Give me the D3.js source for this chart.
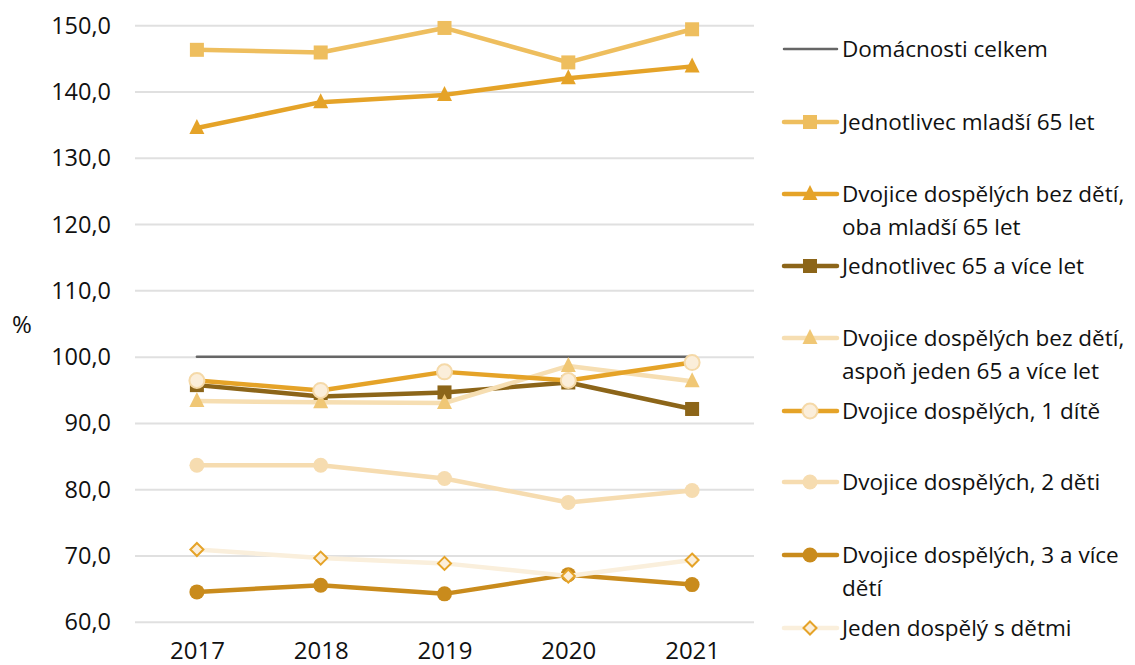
<!DOCTYPE html>
<html><head><meta charset="utf-8">
<script src="https://cdn.jsdelivr.net/npm/d3@7"></script>
<style>body{margin:0;background:#fff}svg{display:block}text{font-family:"Open Sans","Noto Sans",sans-serif;fill:#111}</style>
</head><body><svg id="c" width="1135" height="665"></svg>
<script>
const years = ["2017","2018","2019","2020","2021"];
const yTicks = [60,70,80,90,100,110,120,130,140,150];
const seriesNames = ["Domácnosti celkem","Jednotlivec mladší 65 let","Dvojice dospělých bez dětí, oba mladší 65 let","Jednotlivec 65 a více let","Dvojice dospělých bez dětí, aspoň jeden 65 a více let","Dvojice dospělých, 1 dítě","Dvojice dospělých, 2 děti","Dvojice dospělých, 3 a více dětí","Jeden dospělý s dětmi"];
const domacnostiCelkem = [100,100,100,100,100];
const jednotlivecMladsi65 = [146.3,145.9,149.6,144.4,149.4];
const dvojiceBezDetiMladsi = [134.5,138.4,139.5,142.0,143.8];
const jednotlivec65 = [95.7,94.0,94.6,96.1,92.1];
const dvojiceBezDeti65 = [93.3,93.1,93.0,98.6,96.3];
const dvojice1Dite = [96.4,94.9,97.7,96.4,99.1];
const dvojice2Deti = [83.6,83.6,81.6,78.0,79.8];
const dvojice3Deti = [64.5,65.5,64.2,67.1,65.6];
const jedenDospely = [70.9,69.6,68.8,66.9,69.3];

const values = [domacnostiCelkem,jednotlivecMladsi65,dvojiceBezDetiMladsi,jednotlivec65,dvojiceBezDeti65,dvojice1Dite,dvojice2Deti,dvojice3Deti,jedenDospely];
const styles = [
 {line:"#666666", w:2.5, marker:null},
 {line:"#EEBE5E", w:4.5, marker:"square", fill:"#EEBE5E", stroke:"none"},
 {line:"#E5A328", w:4.5, marker:"triangle", fill:"#E5A328", stroke:"none"},
 {line:"#8C6519", w:4.5, marker:"square", fill:"#8C6519", stroke:"none"},
 {line:"#F6DEB2", w:4.5, marker:"triangle", fill:"#F0C775", stroke:"none"},
 {line:"#E5A328", w:4.5, marker:"circle", fill:"#FBEEDA", stroke:"#F5D9A8"},
 {line:"#F6DCB0", w:4.5, marker:"circle", fill:"#F6DCB0", stroke:"none"},
 {line:"#C98B1C", w:4.5, marker:"circle", fill:"#C98B1C", stroke:"none"},
 {line:"#FAEFDC", w:4.5, marker:"diamond", fill:"#FBEEDA", stroke:"#E5A328"}
];

const svg = d3.select("#c");
const x = d3.scalePoint().domain(years).range([135,754]).padding(0.5);
const y = d3.scaleLinear().domain([60,150]).range([621.7,25.3]);

const yAxis = d3.axisLeft(y).tickValues(yTicks).tickSize(-(754-135)).tickFormat(d=>d3.format(".1f")(d).replace(".",","));
const gy = svg.append("g").attr("transform","translate(135,0)").call(yAxis);
gy.select(".domain").remove();
gy.selectAll(".tick line").attr("stroke","#e0e0e0").attr("stroke-width",2);
gy.selectAll(".tick text").attr("x",-24).attr("dy","0.34em").attr("font-size",23.5).style("fill","#111");

const xAxis = d3.axisBottom(x).tickSize(0);
const gx = svg.append("g").attr("transform","translate(0,622)").call(xAxis);
gx.select(".domain").remove();
gx.selectAll(".tick text").attr("dy",37).attr("y",0).attr("font-size",24).style("fill","#111");

svg.append("text").attr("x",22).attr("y",333).attr("text-anchor","middle").attr("font-size",24).text("%");

function drawMarker(g, type, cx, cy, st){
  let el;
  if(type==="square") el=g.append("rect").attr("x",cx-7).attr("y",cy-7).attr("width",14).attr("height",14);
  else if(type==="circle") el=g.append("circle").attr("cx",cx).attr("cy",cy).attr("r",7.5);
  else if(type==="triangle") el=g.append("path").attr("d",`M${cx},${cy-9}L${cx+7.5},${cy+6}L${cx-7.5},${cy+6}Z`);
  else if(type==="diamond") el=g.append("path").attr("d",`M${cx},${cy-6.5}L${cx+6.5},${cy}L${cx},${cy+6.5}L${cx-6.5},${cy}Z`);
  if(el){ el.attr("fill",st.fill).attr("stroke",st.stroke).attr("stroke-width",st.stroke==="none"?0:2); }
}

const line = d3.line().x((d,i)=>x(years[i])).y(d=>y(d));
values.forEach((vals,si)=>{
  const st = styles[si];
  const g = svg.append("g");
  g.append("path").attr("d",line(vals)).attr("fill","none").attr("stroke",st.line).attr("stroke-width",st.w).attr("stroke-linejoin","round").attr("stroke-linecap","round");
  if(st.marker) vals.forEach((v,i)=>drawMarker(g,st.marker,x(years[i]),y(v),st));
});

const legendY = [49,122,194,266,338,411,482,555,628];
const legendLines = [["Domácnosti celkem"],["Jednotlivec mladší 65 let"],["Dvojice dospělých bez dětí,","oba mladší 65 let"],["Jednotlivec 65 a více let"],["Dvojice dospělých bez dětí,","aspoň jeden 65 a více let"],["Dvojice dospělých, 1 dítě"],["Dvojice dospělých, 2 děti"],["Dvojice dospělých, 3 a více","dětí"],["Jeden dospělý s dětmi"]];
const lg = svg.append("g");
seriesNames.forEach((n,si)=>{
  const st = styles[si], ly = legendY[si];
  lg.append("line").attr("x1",784).attr("x2",837).attr("y1",ly).attr("y2",ly).attr("stroke",st.line).attr("stroke-width",st.w).attr("stroke-linecap","round");
  if(st.marker) drawMarker(lg,st.marker,810,ly,st);
  const t = lg.append("text").attr("x",842).attr("y",ly+8).attr("font-size",22.5);
  legendLines[si].forEach((l,li)=>t.append("tspan").attr("x",842).attr("dy",li===0?0:33).text(l));
});
</script></body></html>
